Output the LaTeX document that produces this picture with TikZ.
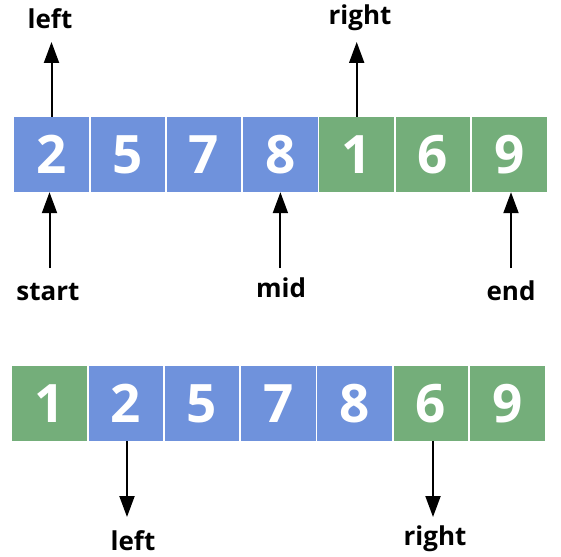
\documentclass[tikz,border=0pt]{standalone}
\usepackage{fontspec}
\setmainfont{Open Sans}
\usetikzlibrary{arrows.meta}
\definecolor{cblue}{RGB}{111,146,220}
\definecolor{cgreen}{RGB}{116,174,122}
\begin{document}
\begin{tikzpicture}[x=1pt,y=-1pt,
  cell/.style={minimum width=74.5pt,minimum height=75pt,inner sep=0pt,text=white,font=\fontsize{53}{53}\selectfont\bfseries},
  bcell/.style={cell,fill=cblue},
  gcell/.style={cell,fill=cgreen},
  lab/.style={anchor=base,inner sep=0pt,font=\fontsize{26}{26}\selectfont\bfseries},
  arr/.style={line width=2pt,-{Triangle[width=15pt,length=21pt]}}]
\useasboundingbox (0,0) rectangle (561,556);
% top row
\node[bcell] (t1) at (51.5,154.5) {2};
\node[bcell] (t2) at (127.8,154.5) {5};
\node[bcell] (t3) at (204.1,154.5) {7};
\node[bcell] (t4) at (280.4,154.5) {8};
\node[gcell] (t5) at (356.7,154.5) {1};
\node[gcell] (t6) at (433.0,154.5) {6};
\node[gcell] (t7) at (509.3,154.5) {9};
% bottom row
\node[gcell] (b1) at (49.5,403.5) {1};
\node[bcell] (b2) at (125.8,403.5) {2};
\node[bcell] (b3) at (202.1,403.5) {5};
\node[bcell] (b4) at (278.4,403.5) {7};
\node[bcell] (b5) at (354.7,403.5) {8};
\node[gcell] (b6) at (431.0,403.5) {6};
\node[gcell] (b7) at (507.3,403.5) {9};
% labels
\node[lab] (lleft) at (50,29) {left};
\node[lab] (lright) at (360,25) {right};
\node[lab] (lstart) at (48,300) {start};
\node[lab] (lmid) at (281,297) {mid};
\node[lab] (lend) at (511,300) {end};
\node[lab] (bleft) at (133,550) {left};
\node[lab] (bright) at (435,545) {right};
% coordinates
\coordinate (tipL) at (51.5,42);
\coordinate (tipR) at (356.7,42);
\coordinate (tailS) at (49.5,268);
\coordinate (tailM) at (280.4,268);
\coordinate (tailE) at (511,268);
\coordinate (tipBL) at (127,517);
\coordinate (tipBR) at (433,517);
% arrows
\draw[arr] (t1.north) -- (tipL);
\draw[arr] (t5.north) -- (tipR);
\draw[arr] (tailS) -- (tailS |- t1.south);
\draw[arr] (tailM) -- (tailM |- t4.south);
\draw[arr] (tailE) -- (tailE |- t7.south);
\draw[arr] (tipBL |- b2.south) -- (tipBL);
\draw[arr] (tipBR |- b6.south) -- (tipBR);
\end{tikzpicture}
\end{document}
